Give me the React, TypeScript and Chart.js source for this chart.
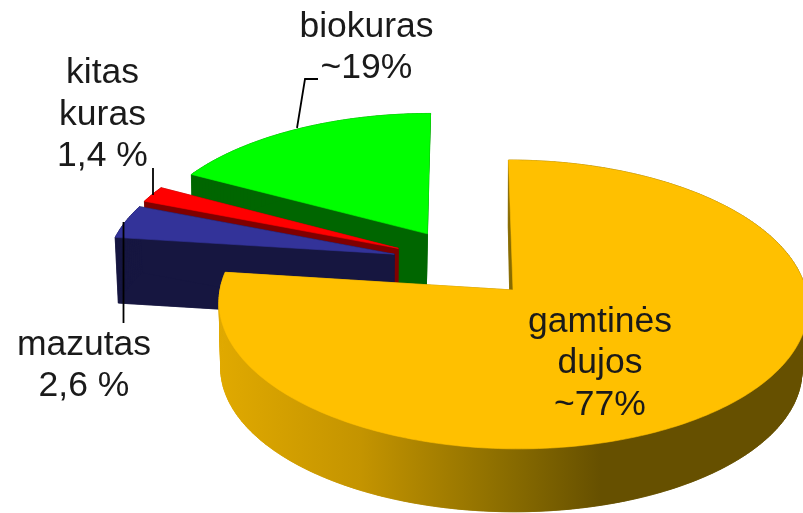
import React, { useEffect, useRef } from "react";
import { Chart, registerables } from "chart.js";

Chart.register(...registerables);

// Category names (order is clockwise from 12 o'clock)
const categories = ["gamtinės dujos", "mazutas", "kitas kuras", "biokuras"];
// Slice shares as drawn in the picture, in percent
const sliceValues = [77, 3.9, 1.9, 17.2];
// Printed labels, one row per line
const labelLines = [
  ["gamtinės", "dujos", "~77%"],
  ["mazutas", "2,6 %"],
  ["kitas", "kuras", "1,4 %"],
  ["biokuras", "~19%"],
];

// Styles
const topColors = ["#FFC000", "#333399", "#FF0000", "#00FF00"];
const sideColors = ["", "#161640", "#7F0000", "#006600"];
const goldSideStops: [number, string][] = [
  [0, "#E0A900"],
  [0.24, "#C49400"],
  [0.48, "#8C6E00"],
  [0.65, "#665000"],
  [1, "#665000"],
];
const explodeDist = [0, 142, 146, 148];
const explodeAngleDeg = [0, 302, 307, 324];
const bottomShear = [3, 5, 5, 6];
const drawOrder = [3, 2, 1, 0];

// Layout of the text and leader lines
const labelCentres = [600, 84, 102.5, 366.5];
const labelBaselines = [
  [332, 373, 415],
  [355, 396],
  [83, 125, 166],
  [37, 78],
];
const leaderLines = [
  [[297, 128], [305, 79], [318, 79]],
  [[153, 168], [153, 195]],
  [[123.5, 222], [123.5, 323]],
];

const TILT = 0.488;
const PERSP = 0.1;
const SHEAR = 5;
const DEPTH = 65;
const BOTTOM_SCALE = 0.987;
const BOTTOM_DX = -2;

const pie3d = {
  id: "pie3d",
  beforeDatasetsDraw(chart: any) {
    const ctx = chart.ctx as CanvasRenderingContext2D;
    const arcs = chart.getDatasetMeta(0).data;
    const project = (a: any, i: number, U: number, V: number, bottom: boolean) => {
      const R = a.outerRadius;
      const k = bottom ? BOTTOM_SCALE : 1;
      const f = 1 / (1 - PERSP * V);
      return [
        a.x + (bottom ? BOTTOM_DX : 0) + (R * k * U + (bottom ? bottomShear[i] : SHEAR) * V) * f,
        a.y + (bottom ? DEPTH : 0) + R * TILT * k * V * f,
      ];
    };
    const R0 = arcs[0].outerRadius;
    const grad = ctx.createLinearGradient(arcs[0].x - R0, 0, arcs[0].x + R0, 0);
    goldSideStops.forEach(([p, c]) => grad.addColorStop(p, c));

    const fillPoly = (pts: number[][], style: any) => {
      ctx.beginPath();
      pts.forEach((p, i) => (i ? ctx.lineTo(p[0], p[1]) : ctx.moveTo(p[0], p[1])));
      ctx.closePath();
      ctx.fillStyle = style;
      ctx.strokeStyle = style;
      ctx.lineWidth = 0.6;
      ctx.fill();
      ctx.stroke();
    };

    drawOrder.forEach((i) => {
      const a = arcs[i];
      const dist = a.options.offset / a.outerRadius;
      const th = (explodeAngleDeg[i] * Math.PI) / 180;
      const ou = dist * Math.sin(th);
      const ov = -dist * Math.cos(th);
      const n = Math.max(4, Math.ceil(((a.endAngle - a.startAngle) * 180) / Math.PI));
      const rim: number[][] = [];
      for (let s = 0; s <= n; s++) {
        const t = a.startAngle + ((a.endAngle - a.startAngle) * s) / n;
        rim.push([ou + Math.cos(t), ov + Math.sin(t)]);
      }
      const top = [project(a, i, ou, ov, false), ...rim.map((p) => project(a, i, p[0], p[1], false))];
      const bot = [project(a, i, ou, ov, true), ...rim.map((p) => project(a, i, p[0], p[1], true))];
      const side = sideColors[i] || grad;
      fillPoly(bot, side);
      for (let s = 0; s < top.length; s++) {
        const e = (s + 1) % top.length;
        fillPoly([top[s], top[e], bot[e], bot[s]], side);
      }
      fillPoly(top, a.options.backgroundColor);
    });
    return false;
  },
  afterDraw(chart: any) {
    const ctx = chart.ctx as CanvasRenderingContext2D;
    ctx.save();
    ctx.strokeStyle = "#000";
    ctx.lineWidth = 1.8;
    leaderLines.forEach((line) => {
      ctx.beginPath();
      line.forEach((p, i) => (i ? ctx.lineTo(p[0], p[1]) : ctx.moveTo(p[0], p[1])));
      ctx.stroke();
    });
    ctx.fillStyle = "#1a1a1a";
    ctx.font = '35.5px "Liberation Sans", Arial, sans-serif';
    ctx.textAlign = "center";
    ctx.textBaseline = "alphabetic";
    labelLines.forEach((rows, i) => {
      rows.forEach((row, j) => ctx.fillText(row, labelCentres[i], labelBaselines[i][j]));
    });
    ctx.restore();
  },
};

export default function App() {
  const ref = useRef<HTMLCanvasElement>(null);
  useEffect(() => {
    document.body.style.margin = "0";
    const chart = new Chart(ref.current!, {
      type: "pie",
      data: {
        labels: categories,
        datasets: [
          {
            data: sliceValues,
            backgroundColor: topColors,
            borderWidth: 0,
            offset: explodeDist,
            radius: 293,
          } as any,
        ],
      },
      options: {
        responsive: false,
        animation: false,
        layout: { padding: { left: 223, right: 0, top: 67, bottom: 0 } },
        plugins: { legend: { display: false }, tooltip: { enabled: false } },
      },
      plugins: [pie3d as any],
    });
    return () => chart.destroy();
  }, []);
  return (
    <div style={{ position: "absolute", left: 0, top: 0, width: 803, height: 513, overflow: "hidden", background: "#fff" }}>
      <canvas ref={ref} width={803} height={513} style={{ display: "block" }} />
    </div>
  );
}
